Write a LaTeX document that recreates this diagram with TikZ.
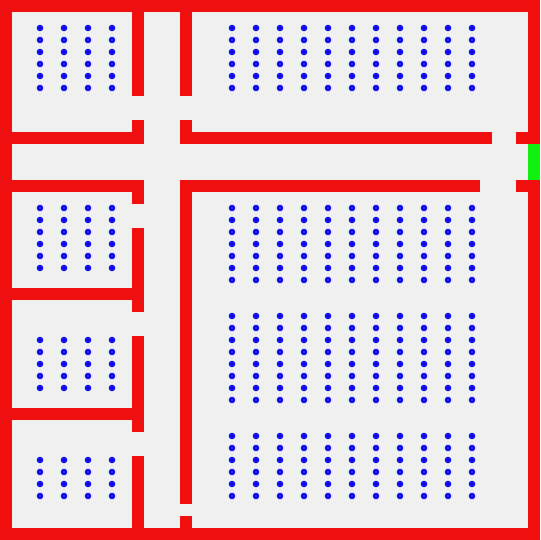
\documentclass[tikz,border=0pt]{standalone}
\usepackage{tikz}
\definecolor{wallred}{RGB}{240,16,16}
\definecolor{floorgray}{RGB}{240,240,240}
\definecolor{exitgreen}{RGB}{16,240,16}
\definecolor{dotblue}{RGB}{16,16,240}
\tikzstyle{wall}=[fill=wallred]
\tikzstyle{exit}=[fill=exitgreen]
\tikzstyle{person}=[fill=dotblue]
\begin{document}
\begin{tikzpicture}[x=1pt,y=-1pt]
\fill[floorgray] (0,0) rectangle (540,540);
\useasboundingbox (0,0) rectangle (540,540);
% outer walls
\fill[wall] (0,0) rectangle (540,12);
\fill[wall] (0,528) rectangle (540,540);
\fill[wall] (0,0) rectangle (12,540);
\fill[wall] (528,0) rectangle (540,144);
\fill[wall] (528,180) rectangle (540,540);
\fill[exit] (528,144) rectangle (540,180);
% vertical walls
\foreach \ya/\yb in {0/96,120/144,180/204,228/312,336/432,456/528}
  \fill[wall] (132,\ya) rectangle (144,\yb);
\foreach \ya/\yb in {0/96,120/144,180/504,516/528}
  \fill[wall] (180,\ya) rectangle (192,\yb);
% horizontal walls
\foreach \ya/\xa/\xb in {132/0/144,132/180/492,132/516/540,180/0/144,180/180/480,180/516/540,288/0/144,408/0/144}
  \fill[wall] (\xa,\ya) rectangle (\xb,\ya+12);
% left rooms
\foreach \x in {40,64,88,112}{
  \foreach \y in {28,40,...,88,208,220,...,268,340,352,...,388,460,472,...,496}
    \fill[person] (\x,\y) circle (3.3);
}
% right rooms
\foreach \x in {232,256,...,472}{
  \foreach \y in {28,40,...,88,208,220,...,280,316,328,...,400,436,448,...,496}
    \fill[person] (\x,\y) circle (3.3);
}
\end{tikzpicture}
\end{document}
